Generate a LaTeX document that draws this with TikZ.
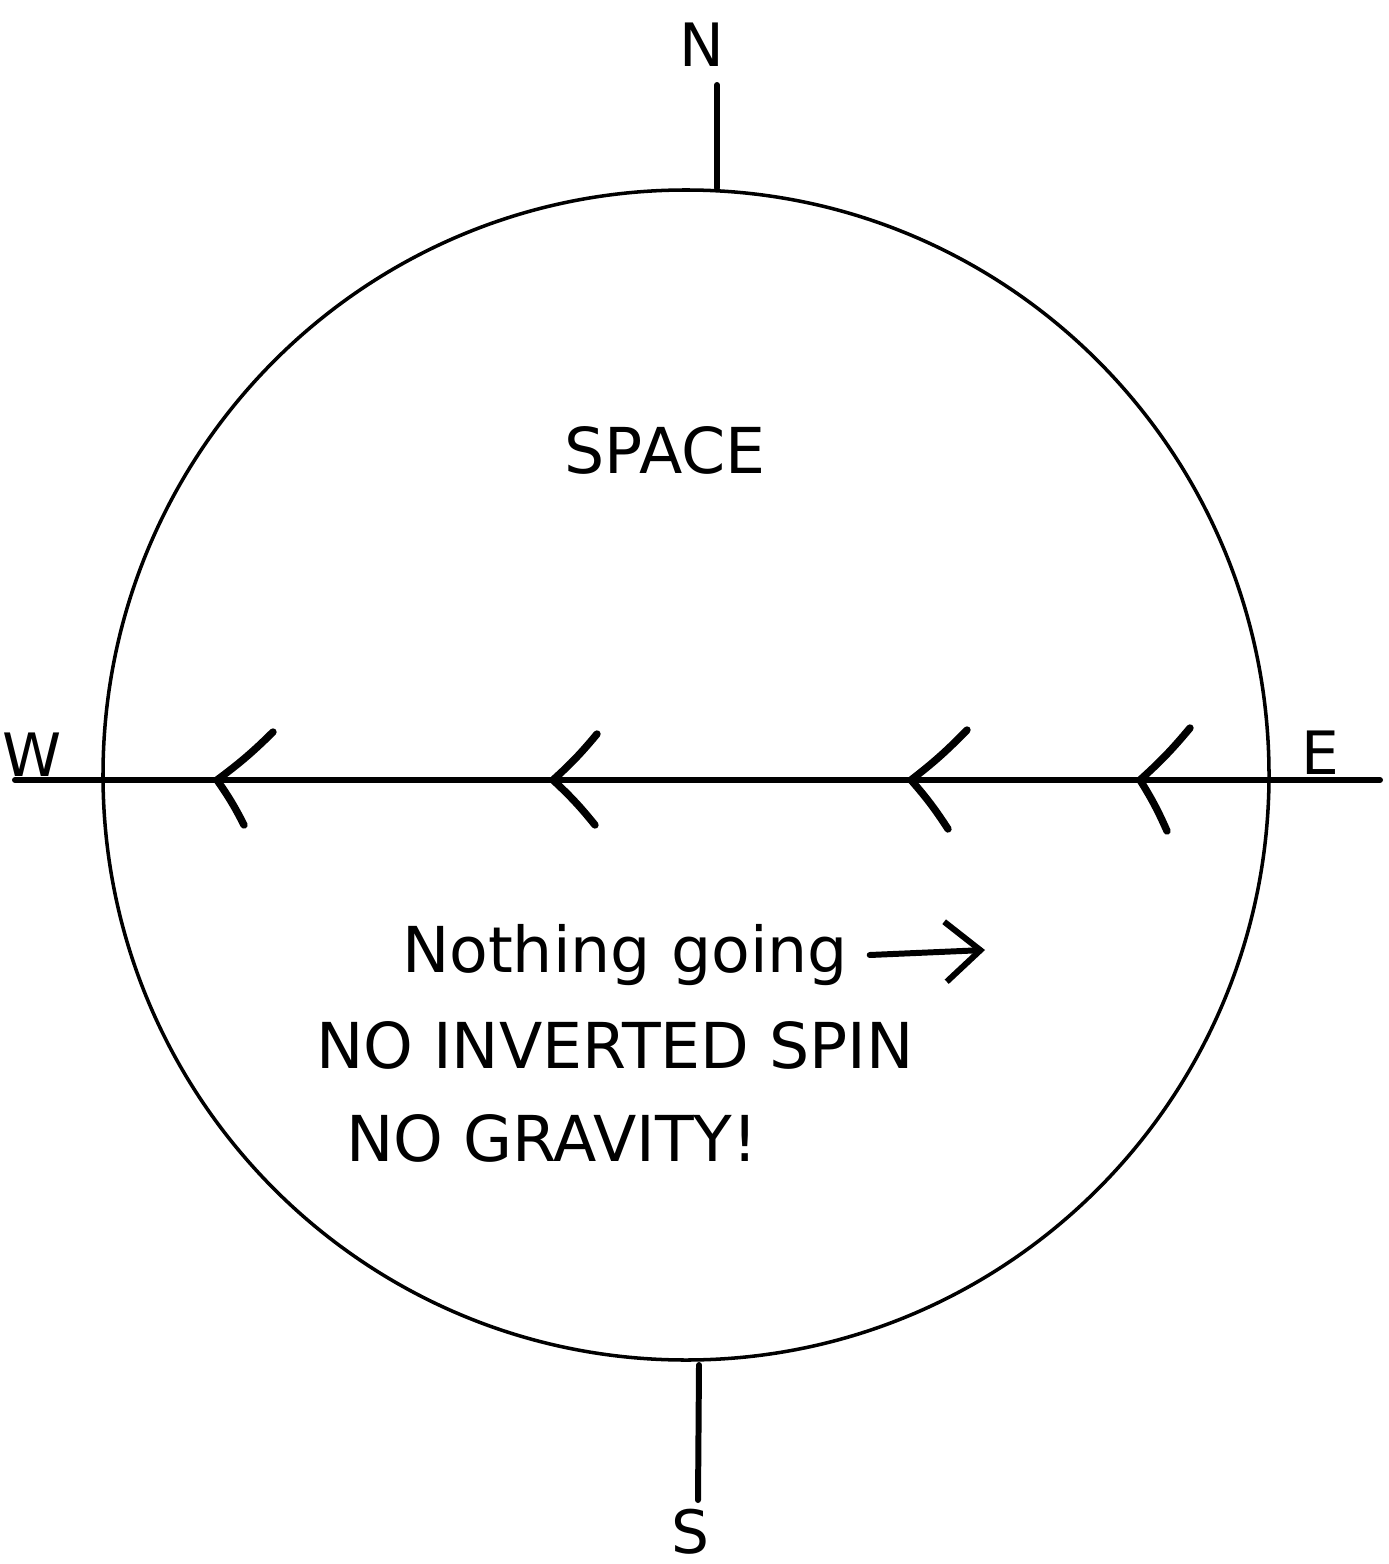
\documentclass[tikz,border=0pt]{standalone}
\usepackage{fontspec}
\setmainfont{DejaVu Sans}
\usetikzlibrary{positioning, arrows.meta}

\begin{document}
\begin{tikzpicture}[
    x=0.01cm, y=-0.01cm,
    globe/.style={draw, line width=1pt},
    axis/.style={draw, line width=1.7pt, line cap=round},
    chev/.style={draw, line width=2.1pt, line cap=round, line join=round},
    pointer/.style={draw, line width=1.7pt, line cap=round, -{Straight Barb[length=3.5mm, width=6mm, line width=1.7pt]}},
    compass/.style={font=\fontsize{17}{20}\selectfont, inner sep=1pt},
    note/.style={font=\fontsize{18}{22}\selectfont, inner sep=1pt}
  ]
  \useasboundingbox (0,0) rectangle (1389,1564);

  % the circle
  \coordinate (centre) at (686,775);
  \draw[globe] (centre) ellipse [x radius=583, y radius=585];

  % compass points
  \node[compass] (north) at (702,45) {N};
  \node[compass] (south) at (690,1532) {S};
  \node[compass] (west) at (32,755) {W};
  \node[compass] (east) at (1320,753) {E};

  \coordinate (ntop) at (717,85);
  \coordinate (nbot) at (717,188);
  \coordinate (stop) at (699,1365);
  \coordinate (sbot) at (698,1500);
  \coordinate (wend) at (15,780);
  \coordinate (eend) at (1380,780);

  \draw[axis] (ntop) -- (nbot);
  \draw[axis] (stop) -- (sbot);
  \draw[axis] (wend) -- (eend);

  % arrow heads along the line, pointing west
  \foreach \tx/\ux/\uy/\lx/\ly [count=\i] in
      {217/273/732/244/825, 553/597/734/595/825,
       911/967/730/948/829, 1140/1190/728/1167/831} {
    \coordinate (tip\i) at (\tx,780);
    \coordinate (up\i) at (\ux,\uy);
    \coordinate (lo\i) at (\lx,\ly);
    \draw[chev] (up\i) to[bend left=4] (tip\i) to[bend left=4] (lo\i);
  }

  % texts
  \node[note] (space) at (665,450) {SPACE};
  \node[note] (nothing) at (625,955) {Nothing going};
  \coordinate (goingto) at (985,950);
  \draw[pointer] ([xshift=5pt]nothing.east) -- (goingto);
  \node[note] (spin) at (615,1045) {NO INVERTED SPIN};
  \node[note] (gravity) at (552,1138) {NO GRAVITY!};

  \end{tikzpicture}
\end{document}
